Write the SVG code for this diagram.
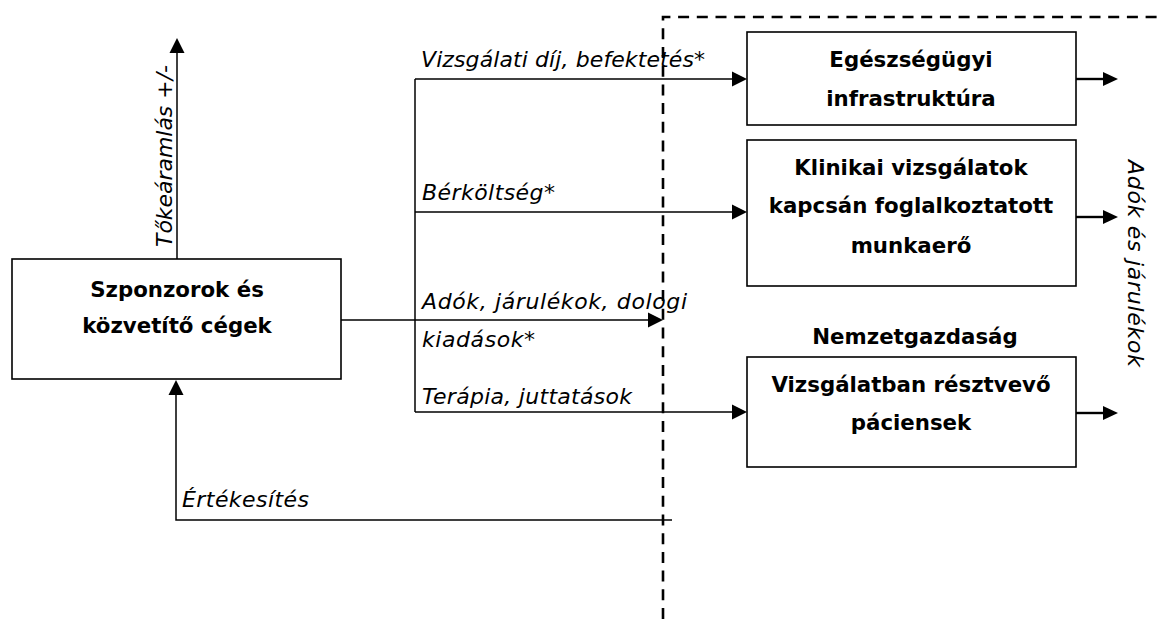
<svg xmlns="http://www.w3.org/2000/svg" width="1157" height="619" viewBox="0 0 1157 619">
<style>
.box{fill:#fff;stroke:#000;stroke-width:1.6}
.ln{fill:none;stroke:#000;stroke-width:1.5}
.lnb{fill:none;stroke:#000;stroke-width:2.4}
.dash{fill:none;stroke:#000;stroke-width:2.6;stroke-dasharray:11 7.7}
.b{font-family:"DejaVu Sans","Liberation Sans",sans-serif;font-weight:bold;font-size:21.3px;text-anchor:middle;fill:#000}
.i{font-family:"DejaVu Sans","Liberation Sans",sans-serif;font-style:italic;font-size:22px;fill:#000}
.ah{fill:#000}
</style>
<g id="boundary">
<path class="dash" d="M663,619 V17 H1157"/>
</g>
<g id="connectors">
<path class="ln" d="M177,259 V52"/>
<polygon class="ah" points="177,38 169.5,53 184.5,53"/>
<path class="ln" d="M672,520 H176 V394"/>
<polygon class="ah" points="176,380 168.5,395 183.5,395"/>
<path class="ln" d="M341,320 H650"/>
<polygon class="ah" points="663,320 648,312.5 648,327.5"/>
<path class="ln" d="M415,79 V412"/>
<path class="ln" d="M415,79 H733"/>
<polygon class="ah" points="747,79 732,71.5 732,86.5"/>
<path class="ln" d="M415,212 H733"/>
<polygon class="ah" points="747,212 732,204.5 732,219.5"/>
<path class="ln" d="M415,412 H733"/>
<polygon class="ah" points="747,412 732,404.5 732,419.5"/>
<path class="lnb" d="M1076,79 H1104"/>
<polygon class="ah" points="1118,79 1103,72 1103,86"/>
<path class="lnb" d="M1076,217 H1104"/>
<polygon class="ah" points="1118,217 1103,210 1103,224"/>
<path class="lnb" d="M1076,413 H1104"/>
<polygon class="ah" points="1118,413 1103,406 1103,420"/>
</g>
<g id="labels">
<text class="i" transform="translate(172,247) rotate(-90)" textLength="182">Tőkeáramlás +/-</text>
<text class="i" x="421" y="67" textLength="284">Vizsgálati díj, befektetés*</text>
<text class="i" x="422" y="200" textLength="133">Bérköltség*</text>
<text class="i" x="422" y="309" textLength="265">Adók, járulékok, dologi</text>
<text class="i" x="422" y="347" textLength="113">kiadások*</text>
<text class="i" x="422" y="404" textLength="210">Terápia, juttatások</text>
<text class="i" x="182" y="507" textLength="127">Értékesítés</text>
<text class="i" transform="translate(1128,160) rotate(90)" textLength="207">Adók és járulékok</text>
</g>
<g id="sponsor">
<rect class="box" x="12" y="259" width="329" height="120"/>
<text class="b" x="177" y="297">Szponzorok és</text>
<text class="b" x="177" y="333">közvetítő cégek</text>
</g>
<g id="infra">
<rect class="box" x="747" y="32" width="329" height="93"/>
<text class="b" x="911" y="67">Egészségügyi</text>
<text class="b" x="911" y="106">infrastruktúra</text>
</g>
<g id="labour">
<rect class="box" x="747" y="140" width="329" height="146"/>
<text class="b" x="911" y="175">Klinikai vizsgálatok</text>
<text class="b" x="911" y="213">kapcsán foglalkoztatott</text>
<text class="b" x="911" y="253">munkaerő</text>
</g>
<g id="economy">
<text class="b" x="915" y="344">Nemzetgazdaság</text>
</g>
<g id="patients">
<rect class="box" x="747" y="357" width="329" height="110"/>
<text class="b" x="911" y="392">Vizsgálatban résztvevő</text>
<text class="b" x="911" y="430">páciensek</text>
</g>
</svg>
